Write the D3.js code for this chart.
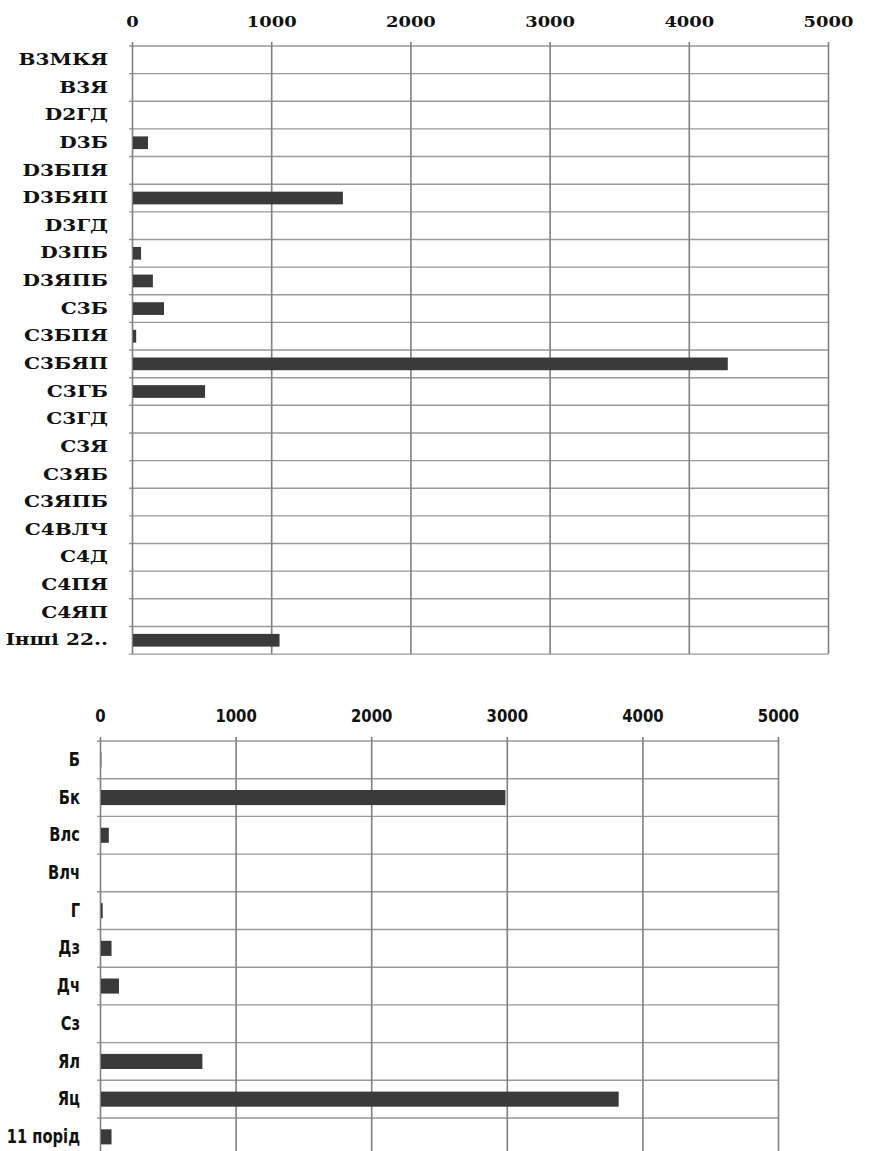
<!DOCTYPE html>
<html>
<head>
<meta charset="utf-8">
<script src="https://cdn.jsdelivr.net/npm/d3@7"></script>
<style>
  body { margin: 0; background: #fff; }
  .vgrid line { stroke: #808080; stroke-width: 1.6; }
  .hgrid line { stroke: #999; stroke-width: 1.4; }
  .domain { display: none; }
  .top-chart text { font-family: "DejaVu Serif", "Liberation Serif", serif; font-weight: bold; fill: #111; }
  .bottom-chart text { font-family: "DejaVu Sans Condensed", "DejaVu Sans", sans-serif; font-stretch: condensed; font-weight: bold; fill: #111; }
</style>
</head>
<body>
<div id="chart"></div>
<script>
// Upper chart: forest site types
var topCategories = ["B3МКЯ", "B3Я", "D2ГД", "D3Б", "D3БПЯ", "D3БЯП", "D3ГД", "D3ПБ", "D3ЯПБ", "C3Б", "C3БПЯ",
  "C3БЯП", "C3ГБ", "C3ГД", "C3Я", "C3ЯБ", "C3ЯПБ", "C4ВЛЧ", "C4Д", "C4ПЯ", "C4ЯП", "Інші 22.."];
var topValues = [0, 0, 0, 115, 0, 1515, 0, 65, 150, 230, 30, 4280, 525, 0, 0, 0, 0, 0, 0, 0, 0, 1060];
var topTicks = [0, 1000, 2000, 3000, 4000, 5000];

// Lower chart: tree species
var bottomCategories = ["Б", "Бк", "Влс", "Влч", "Г", "Дз", "Дч", "Сз", "Ял", "Яц", "11 порід"];
var bottomValues = [10, 2990, 65, 0, 20, 85, 140, 0, 755, 3825, 85];
var bottomTicks = [0, 1000, 2000, 3000, 4000, 5000];

var w = 875;
var h = 1151;

var svg = d3.select("#chart")
  .append("svg")
  .attr("width", w)
  .attr("height", h);

function drawChart(cfg) {
  var g = svg.append("g").attr("class", cfg.cls);
  var n = cfg.categories.length;
  var bottom = cfg.top + cfg.rowH * n;

  var x = d3.scaleLinear()
    .domain([0, 5000])
    .range([cfg.left, cfg.right]);

  // one row per category, grid lines sit on the row boundaries
  var rows = d3.scaleBand()
    .domain(cfg.categories)
    .range([cfg.top, bottom]);

  // bars centred in their rows
  var bars = d3.scaleBand()
    .domain(cfg.categories)
    .range([cfg.top, bottom])
    .paddingInner(cfg.pad)
    .paddingOuter(cfg.pad / 2);

  // horizontal grid
  g.append("g")
    .attr("class", "hgrid")
    .selectAll("line")
    .data(cfg.categories.map(c => rows(c)).concat([bottom]))
    .enter()
    .append("line")
    .attr("x1", cfg.left - 3)
    .attr("x2", cfg.right)
    .attr("y1", d => d)
    .attr("y2", d => d);

  // vertical grid + tick labels on top
  var xAxis = g.append("g")
    .attr("class", "vgrid")
    .attr("transform", "translate(0," + cfg.top + ")")
    .call(d3.axisTop(x)
      .tickValues(cfg.ticks)
      .tickFormat(d3.format("d"))
      .tickSize(-(bottom - cfg.top))
      .tickSizeOuter(0)
      .tickPadding(cfg.tickPad));

  xAxis.selectAll("line").attr("y1", -4);
  xAxis.selectAll("text")
    .attr("font-size", cfg.tickFont)
    .attr("transform", "scale(" + cfg.tickScale + ",1)")
    .attr("y", -cfg.tickPad);

  // bars
  g.append("g")
    .attr("fill", "#3a3a3a")
    .selectAll("rect")
    .data(cfg.values)
    .enter()
    .append("rect")
    .attr("x", x(0) + 1)
    .attr("y", (d, i) => bars(cfg.categories[i]))
    .attr("width", d => Math.max(0, x(d) - x(0) - 1))
    .attr("height", bars.bandwidth());

  // category labels
  var yAxis = g.append("g")
    .attr("transform", "translate(" + cfg.left + ",0)")
    .call(d3.axisLeft(rows).tickSize(0).tickPadding(cfg.labelPad));

  yAxis.selectAll("text")
    .attr("font-size", cfg.labelFont)
    .attr("x", -cfg.labelPad / cfg.labelScale)
    .attr("transform", "scale(" + cfg.labelScale + ",1)");
}

drawChart({
  cls: "top-chart",
  categories: topCategories,
  values: topValues,
  ticks: topTicks,
  left: 132, right: 828,
  top: 46, rowH: 27.64,
  pad: 0.54,
  tickPad: 19, tickFont: 14, tickScale: 1.28,
  labelPad: 24, labelFont: 16, labelScale: 1.26
});

drawChart({
  cls: "bottom-chart",
  categories: bottomCategories,
  values: bottomValues,
  ticks: bottomTicks,
  left: 100, right: 778,
  top: 741, rowH: 37.7,
  pad: 0.6,
  tickPad: 19, tickFont: 18, tickScale: 0.92,
  labelPad: 20, labelFont: 19, labelScale: 0.86
});
</script>
</body>
</html>
